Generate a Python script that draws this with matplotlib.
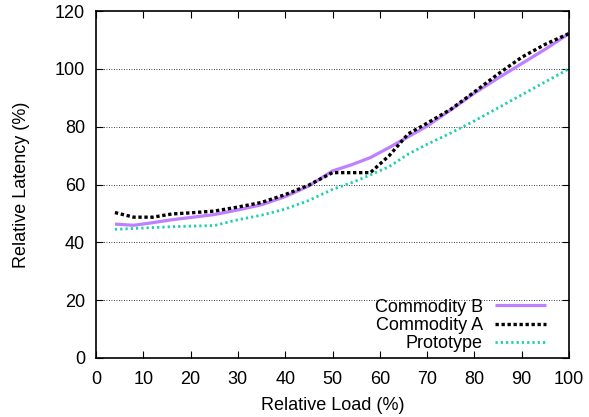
import matplotlib
matplotlib.use("Agg")
import matplotlib.pyplot as plt

load = [4, 8, 12, 16, 20, 25, 30, 35, 40, 45, 50, 54, 58, 62, 66, 70, 75, 80, 85, 90, 95, 100]
commodity_b = [46.3, 45.9, 46.8, 47.8, 48.6, 49.6, 51.2, 53.0, 55.8, 59.5, 64.7, 66.8, 69.3,
               72.8, 76.5, 80.2, 85.8, 91.6, 96.8, 101.8, 106.8, 112.2]
commodity_a = [50.3, 48.7, 48.7, 49.8, 50.2, 50.8, 52.2, 53.8, 56.5, 59.8, 64.1, 64.1, 64.1,
               70.0, 77.5, 81.2, 86.0, 92.0, 98.2, 104.0, 108.5, 112.2]
prototype = [44.5, 44.8, 45.1, 45.4, 45.6, 45.8, 47.8, 49.4, 51.5, 54.5, 58.3, 60.6, 63.3,
             66.2, 70.5, 73.9, 77.8, 82.0, 86.5, 91.0, 95.5, 100.0]
xticks = [0, 10, 20, 30, 40, 50, 60, 70, 80, 90, 100]
yticks = [0, 20, 40, 60, 80, 100, 120]

plt.rcParams['font.family'] = ['Liberation Sans', 'DejaVu Sans']
FS = 13

fig = plt.figure(figsize=(5.89, 4.17), dpi=100)
ax = fig.add_axes([96/589, 59/417, 473/589, 347/417])

ax.plot(load, commodity_b, color='#bf80ff', lw=2.3, solid_capstyle='butt', label='Commodity B')
ax.plot(load, commodity_a, color='black', lw=2.4, dashes=(1.0, 0.8), dash_capstyle='butt', label='Commodity A')
ax.plot(load, prototype, color='#1ecfae', lw=2.0, dashes=(0.8, 1.1), dash_capstyle='butt', label='Prototype')

ax.set_xlim(0, 100)
ax.set_ylim(0, 120)
ax.set_xticks(xticks)
ax.set_yticks(yticks)
ax.tick_params(direction='in', top=True, right=True, length=5, width=0.8, labelsize=FS, color='black')
ax.tick_params(axis='x', pad=9)
ax.tick_params(axis='y', pad=8)
for s in ax.spines.values():
    s.set_linewidth(1.2)

for y in yticks[1:-1]:
    ax.axhline(y, color='black', lw=0.6, ls=(0, (1, 2)), zorder=0)

ax.set_xlabel('Relative Load (%)', fontsize=FS, labelpad=7)
ax.set_ylabel('Relative Latency (%)', fontsize=FS, labelpad=18)

leg = ax.legend(loc='lower right', frameon=False, markerfirst=False, fontsize=FS,
                handlelength=2.8, handletextpad=0.7, labelspacing=0.07,
                borderpad=0, borderaxespad=0, bbox_to_anchor=(0.951, 0.0165))
for t in leg.get_texts():
    t.set_ha('right')

fig.savefig('out.png', dpi=100)
